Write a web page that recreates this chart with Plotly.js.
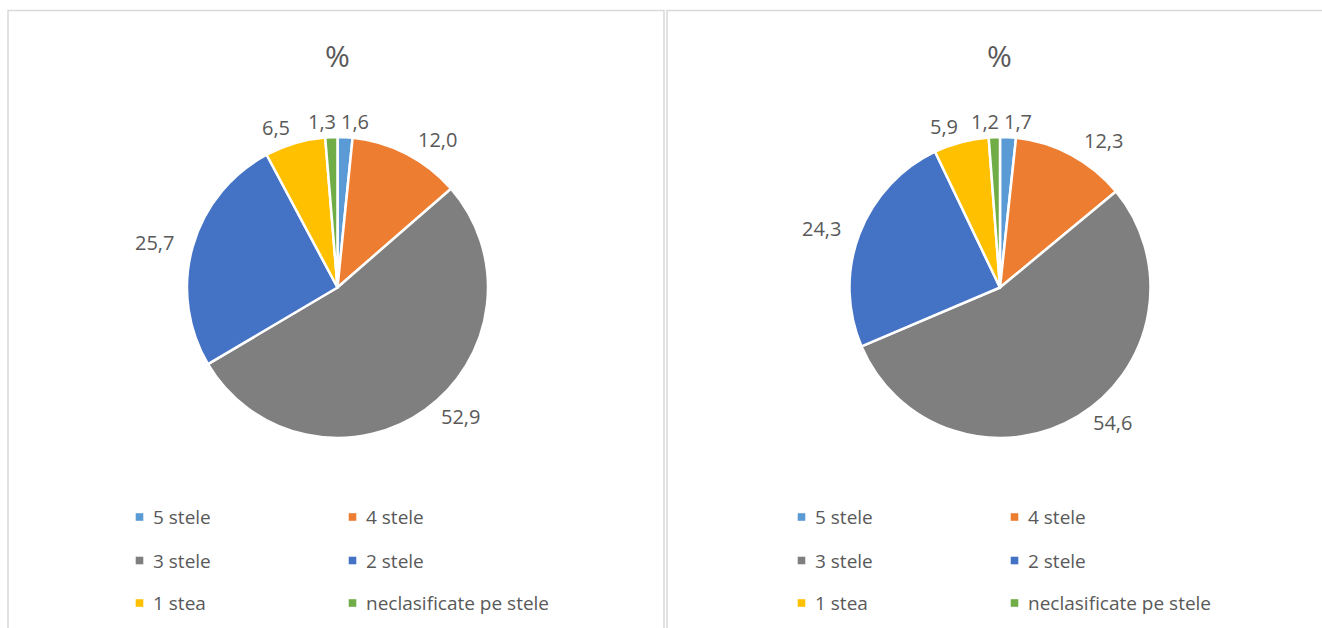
<!DOCTYPE html>
<html><head><meta charset="utf-8">
<script src="https://cdn.plot.ly/plotly-3.0.1.min.js"></script>
<style>html,body{margin:0;padding:0;background:#fff}#c{width:1322px;height:628px}</style>
</head><body><div id="c"></div>
<script>
const categories = ['5 stele','4 stele','3 stele','2 stele','1 stea','neclasificate pe stele'];
const colors = ['#5B9BD5','#ED7D31','#7F7F7F','#4472C4','#FFC000','#70AD47'];
const valuesLeft = [1.6, 12.0, 52.9, 25.7, 6.5, 1.3];
const valuesRight = [1.7, 12.3, 54.6, 24.3, 5.9, 1.2];
const chartTitle = '%';

const W = 1322, H = 628;
const px = x => x / W, py = y => 1 - y / H;
const FONT = '"Open Sans", Lato, sans-serif';
const TXT = '#595959';
const panels = [{cx: 337.5, values: valuesLeft}, {cx: 1000, values: valuesRight}];
const R = 150.5, CY = 287.5, LSIZE = 19, DSIZE = 20;

const traces = panels.map(p => ({
  type: 'pie', values: p.values, labels: categories, sort: false,
  direction: 'clockwise', rotation: 0,
  marker: {colors: colors, line: {color: '#fff', width: 2.5}},
  textinfo: 'none',
  domain: {x: [px(p.cx - R), px(p.cx + R)], y: [py(CY + R), py(CY - R)]},
  hoverinfo: 'label+value', showlegend: false
}));

const ctx = document.createElement('canvas').getContext('2d');
ctx.font = DSIZE + 'px "Open Sans"';
const fmt = v => v.toFixed(1).replace('.', ',');

const shapes = [
  {type:'rect', xref:'paper', yref:'paper', x0:px(8), x1:px(664), y0:py(640), y1:py(10.5), line:{color:'#D9D9D9', width:1.5}},
  {type:'rect', xref:'paper', yref:'paper', x0:px(667), x1:px(1330), y0:py(640), y1:py(10.5), line:{color:'#D9D9D9', width:1.5}}
];
const annotations = [];
const colX = [139.5, 352.5], rowY = [517, 560.5, 603];
panels.forEach((p, pi) => {
  const off = pi * 662;
  annotations.push({xref:'paper', yref:'paper', x:px(p.cx), y:py(56), text:chartTitle, showarrow:false,
    font:{family:FONT, size:30, color:TXT}, xanchor:'center', yanchor:'middle'});
  // data labels outside the slices, placed from each slice's mid angle
  const total = p.values.reduce((a, b) => a + b, 0);
  let cum = 0;
  const labs = p.values.map(v => {
    const th = (cum + v / 2) / total * 2 * Math.PI; cum += v;
    const s = Math.sin(th), c = Math.cos(th);
    const D = R + 8;
    const t = fmt(v);
    return {t, x: D * s + 30 * Math.sign(s) * Math.min(1, 2 * Math.abs(s)),
               y: -D * c - 8 * Math.max(0, c), w: ctx.measureText(t).width, h: DSIZE};
  });
  for (let it = 0; it < 200; it++) {
    for (let i = 0; i < labs.length; i++) for (let j = i + 1; j < labs.length; j++) {
      const a = labs[i], b = labs[j];
      if (Math.abs(a.y - b.y) >= a.h) continue;
      const need = (a.w + b.w) / 2 + 5, d = b.x - a.x;
      if (Math.abs(d) < need) {
        const push = (need - Math.abs(d)) / 2 * (d >= 0 ? 1 : -1);
        a.x -= push; b.x += push;
      }
    }
  }
  labs.forEach(l => annotations.push({xref:'paper', yref:'paper', x:px(p.cx + l.x), y:py(CY + l.y), text:l.t,
    showarrow:false, xanchor:'center', yanchor:'middle', font:{family:FONT, size:DSIZE, color:TXT}}));
  categories.forEach((c, i) => {
    const x = colX[i % 2] + off, y = rowY[Math.floor(i / 2)];
    shapes.push({type:'rect', xref:'paper', yref:'paper', x0:px(x-3.8), x1:px(x+3.8), y0:py(y+3.8), y1:py(y-3.8),
      fillcolor:colors[i], line:{width:0}});
    annotations.push({xref:'paper', yref:'paper', x:px(x+11), y:py(y), text:c, showarrow:false,
      xanchor:'left', yanchor:'middle', font:{family:FONT, size:LSIZE, color:TXT}});
  });
});

Plotly.newPlot('c', traces, {
  width: W, height: H, margin: {l:0, r:0, t:0, b:0},
  paper_bgcolor: '#fff', showlegend: false, shapes: shapes, annotations: annotations
}, {displayModeBar: false, staticPlot: true});
</script></body></html>
